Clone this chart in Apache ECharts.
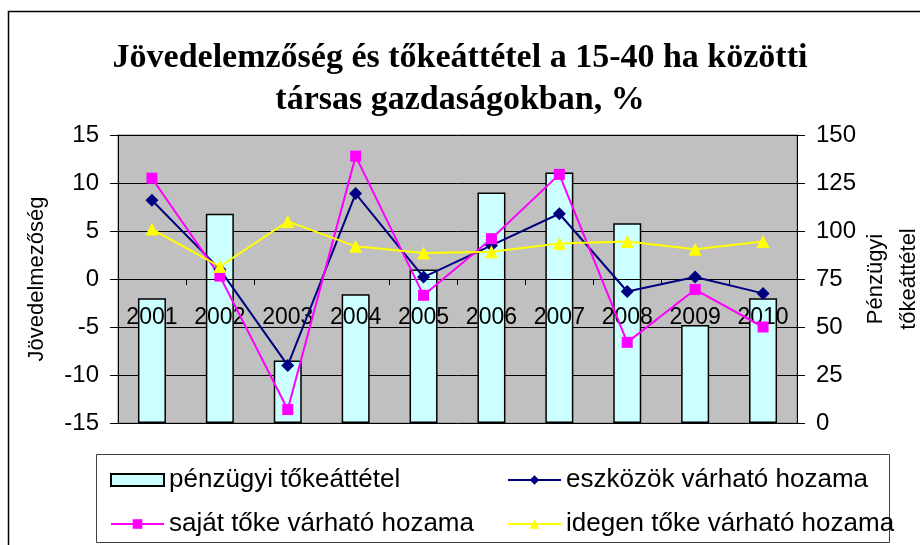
<!DOCTYPE html>
<html>
<head>
<meta charset="utf-8">
<script src="https://cdn.jsdelivr.net/npm/echarts@6/dist/echarts.min.js"></script>
<style>
  html, body { margin: 0; padding: 0; background: #fff; }
  #chart { width: 920px; height: 545px; }
</style>
</head>
<body>
<div id="chart"></div>
<script>
var years = ['2001', '2002', '2003', '2004', '2005', '2006', '2007', '2008', '2009', '2010'];
// right axis (Pénzügyi tőkeáttétel)
var tokeattetel = [65, 109, 32.5, 67, 80, 120, 130.5, 104, 51, 65];
// left axis (Jövedelmezőség)
var eszkozok = [8.2, 1.0, -9.0, 8.9, 0.2, 3.5, 6.8, -1.3, 0.2, -1.5];
var sajat = [10.5, 0.3, -13.6, 12.8, -1.7, 4.2, 10.9, -6.6, -1.1, -5.0];
var idegen = [5.2, 1.3, 6.0, 3.4, 2.7, 2.85, 3.7, 3.9, 3.1, 3.9];

var sans = 'Liberation Sans, Arial, sans-serif';

// plot area in px, the category axis sits on the zero line of the left axis
var gridTop = 135, gridBottom = 122, plotH = 545 - gridTop - gridBottom;
var zeroOffset = -plotH * (0 - (-15)) / 30;

var chart = echarts.init(document.getElementById('chart'));

var option = {
    backgroundColor: '#fff',
    animation: false,
    title: {
        text: 'Jövedelemzőség és tőkeáttétel a 15-40 ha közötti\ntársas gazdaságokban, %',
        left: 'center',
        top: 32,
        textStyle: {
            fontFamily: 'Liberation Serif, Times New Roman, serif',
            fontWeight: 'bold',
            fontSize: 34,
            lineHeight: 42,
            color: '#000'
        }
    },
    graphic: [
        {
            type: 'rect',
            shape: {x: 8.5, y: 11.5, width: 1000, height: 1000},
            style: {fill: 'none', stroke: '#000', lineWidth: 1.5},
            silent: true
        },
        {
            type: 'rect',
            shape: {x: 96.5, y: 454.5, width: 793, height: 88},
            style: {fill: '#fff', stroke: '#404040', lineWidth: 1},
            silent: true,
            z: -1
        }
    ],
    legend: [
        {
            orient: 'vertical',
            left: 105,
            top: 462,
            itemWidth: 53,
            itemHeight: 12,
            itemGap: 18,
            textStyle: {fontFamily: sans, fontSize: 26, color: '#000'},
            data: [{name: 'pénzügyi tőkeáttétel', icon: 'rect'}, 'saját tőke várható hozama']
        },
        {
            orient: 'vertical',
            left: 502,
            top: 462,
            itemWidth: 53,
            itemHeight: 12,
            itemGap: 18,
            textStyle: {fontFamily: sans, fontSize: 26, color: '#000'},
            data: ['eszközök várható hozama', 'idegen tőke várható hozama']
        }
    ],
    grid: {
        left: 118,
        right: 123,
        top: gridTop,
        bottom: gridBottom,
        outerBoundsMode: 'none',
        show: true,
        backgroundColor: '#c0c0c0',
        borderColor: '#808080',
        borderWidth: 1
    },
    xAxis: {
        type: 'category',
        data: years,
        offset: zeroOffset,
        z: 1.5,
        axisLine: {onZero: false, lineStyle: {color: '#000', width: 1}},
        axisTick: {show: true, length: 6, inside: false, lineStyle: {color: '#000'}},
        axisLabel: {interval: 0, margin: 27, fontFamily: sans, fontSize: 23, color: '#000'},
        splitLine: {show: false}
    },
    yAxis: [
        {
            type: 'value',
            min: -15,
            max: 15,
            interval: 5,
            name: 'Jövedelmezőség',
            nameLocation: 'middle',
            nameRotate: 90,
            nameGap: 70,
            nameTextStyle: {fontFamily: sans, fontSize: 22, color: '#000'},
            axisLine: {show: true, lineStyle: {color: '#000'}},
            axisTick: {show: true, length: 8, lineStyle: {color: '#000'}},
            axisLabel: {margin: 19, fontFamily: sans, fontSize: 24, color: '#000'},
            splitLine: {show: true, lineStyle: {color: '#000', width: 1}}
        },
        {
            type: 'value',
            min: 0,
            max: 150,
            interval: 25,
            position: 'right',
            name: 'Pénzügyi\ntőkeáttétel',
            nameLocation: 'middle',
            nameRotate: 90,
            nameGap: 62,
            nameMoveOverlap: false,
            nameTextStyle: {fontFamily: sans, fontSize: 22, lineHeight: 33, color: '#000'},
            axisLine: {show: true, lineStyle: {color: '#000'}},
            axisTick: {show: true, length: 8, lineStyle: {color: '#000'}},
            axisLabel: {margin: 19, fontFamily: sans, fontSize: 24, color: '#000'},
            splitLine: {show: false}
        }
    ],
    series: [
        {
            name: 'pénzügyi tőkeáttétel',
            type: 'bar',
            yAxisIndex: 1,
            z: 1,
            barWidth: 28,
            data: tokeattetel,
            itemStyle: {color: '#ccffff', borderColor: '#000', borderWidth: 1.5}
        },
        {
            name: 'eszközök várható hozama',
            type: 'line',
            yAxisIndex: 0,
            data: eszkozok,
            symbol: 'diamond',
            symbolSize: 13,
            lineStyle: {color: '#000080', width: 2},
            itemStyle: {color: '#000080'}
        },
        {
            name: 'saját tőke várható hozama',
            type: 'line',
            yAxisIndex: 0,
            data: sajat,
            symbol: 'rect',
            symbolSize: 11,
            lineStyle: {color: '#ff00ff', width: 2},
            itemStyle: {color: '#ff00ff'}
        },
        {
            name: 'idegen tőke várható hozama',
            type: 'line',
            yAxisIndex: 0,
            data: idegen,
            symbol: 'triangle',
            symbolSize: 13,
            lineStyle: {color: '#ffff00', width: 2},
            itemStyle: {color: '#ffff00'}
        }
    ]
};

chart.setOption(option);
</script>
</body>
</html>
